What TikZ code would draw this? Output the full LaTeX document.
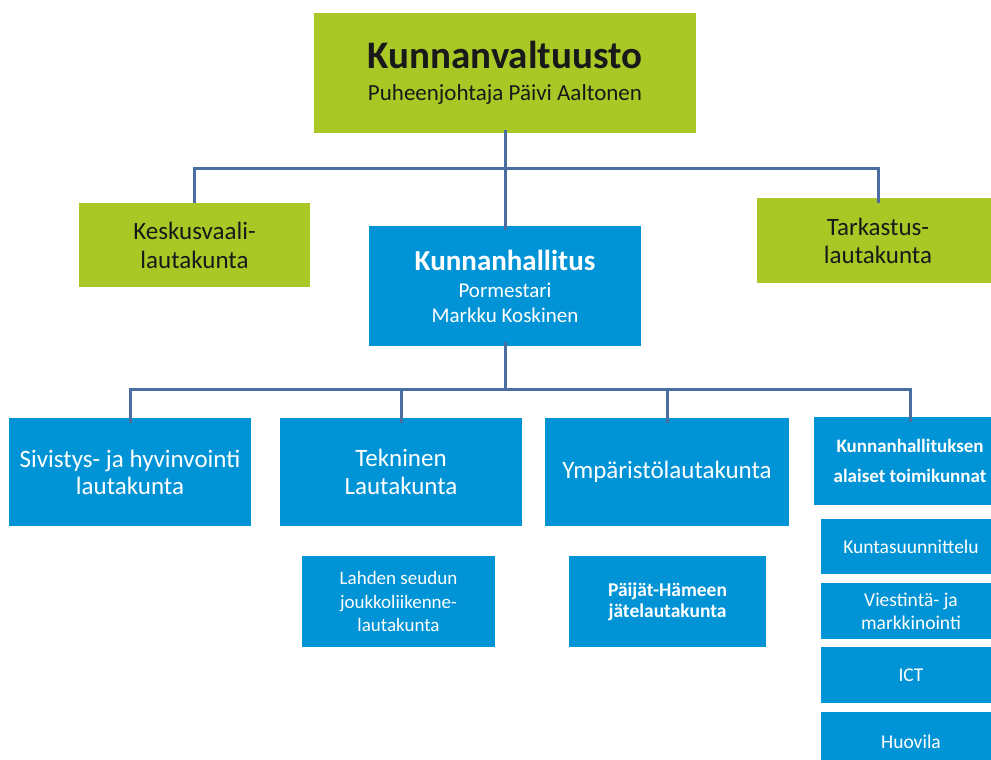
\documentclass[tikz,border=0pt]{standalone}
\usepackage{fontspec}
\setmainfont{Carlito}
\definecolor{kgreen}{RGB}{169,200,37}
\definecolor{kblue}{RGB}{0,148,214}
\definecolor{kline}{RGB}{74,110,160}
\begin{document}
\begin{tikzpicture}[x=1pt,y=-1pt,
  gbox/.style={rectangle,fill=kgreen,inner sep=0pt,align=center,text=black!90},
  bbox/.style={rectangle,fill=kblue,inner sep=0pt,align=center,text=white},
  conn/.style={draw=kline,line width=3pt}]
\useasboundingbox (0,0) rectangle (991,760);
\clip (0,0) rectangle (991,760);
\fill[white] (0,0) rectangle (991,760);
% top
\node[gbox,minimum width=382pt,minimum height=120pt,font=\fontsize{23}{27}\selectfont] (kv) at (505,73)
  {\fontsize{39}{44}\selectfont\bfseries Kunnanvaltuusto\\[5pt]Puheenjohtaja Päivi Aaltonen};
\node[gbox,minimum width=231pt,minimum height=84pt,font=\fontsize{25}{29}\selectfont] (kesk) at (194.5,245)
  {Keskusvaali-\\lautakunta};
\node[gbox,minimum width=242pt,minimum height=85pt,font=\fontsize{25}{28}\selectfont] (tark) at (878,240.5)
  {Tarkastus-\\lautakunta};
\node[bbox,minimum width=272pt,minimum height=120pt,font=\fontsize{21}{25}\selectfont] (kh) at (505,286)
  {\fontsize{29}{33}\selectfont\bfseries Kunnanhallitus\\[2pt]Pormestari\\Markku Koskinen};
% level 3
\node[bbox,minimum width=242pt,minimum height=108pt,font=\fontsize{25}{27}\selectfont] (siv) at (130,472)
  {Sivistys- ja hyvinvointi\\lautakunta};
\node[bbox,minimum width=242pt,minimum height=108pt,font=\fontsize{25}{28}\selectfont] (tek) at (401,472)
  {Tekninen\\Lautakunta};
\node[bbox,minimum width=244pt,minimum height=108pt,font=\fontsize{25}{29}\selectfont] (ymp) at (667,472)
  {Ympäristölautakunta};
\node[bbox,minimum width=192pt,minimum height=88pt,font=\fontsize{19}{30}\selectfont\bfseries] (ala) at (910,461)
  {Kunnanhallituksen\\alaiset toimikunnat};
% level 4
\node[bbox,minimum width=193pt,minimum height=91pt,font=\fontsize{19}{23.5}\selectfont] (lah) at (398.5,601.5)
  {Lahden seudun\\joukkoliikenne-\\lautakunta};
\node[bbox,minimum width=197pt,minimum height=91pt,font=\fontsize{19.5}{21}\selectfont\bfseries] (pai) at (667.5,601.5)
  {Päijät-Hämeen\\jätelautakunta};
\node[bbox,minimum width=180pt,minimum height=55pt,font=\fontsize{19.5}{24}\selectfont] (kun) at (911,546.5)
  {Kuntasuunnittelu};
\node[bbox,minimum width=180pt,minimum height=56pt,font=\fontsize{19.5}{23}\selectfont] (vie) at (911,611)
  {Viestintä- ja\\markkinointi};
\node[bbox,minimum width=180pt,minimum height=56pt,font=\fontsize{19.5}{24}\selectfont] (ict) at (911,675)
  {ICT};
\node[bbox,minimum width=180pt,minimum height=60pt,font=\fontsize{19.5}{24}\selectfont] (huo) at (911,742)
  {Huovila};
% connectors
\coordinate (b1) at (505,168);
\coordinate (b2) at (505,389);
\draw[conn] ([yshift=3pt]kv.south) -- ([yshift=-4pt]kh.north);
\draw[conn] (kesk.north) -- (kesk.north |- b1) -- (tark.north |- b1) -- ([yshift=-5pt]tark.north);
\draw[conn] ([yshift=4pt]kh.south) -- (b2);
\draw[conn] ([yshift=-5pt]siv.north) -- (siv.north |- b2) -- (ala.north |- b2) -- ([yshift=-5pt]ala.north);
\draw[conn] ([yshift=-5pt]tek.north) -- (tek.north |- b2);
\draw[conn] ([yshift=-5pt]ymp.north) -- (ymp.north |- b2);
\end{tikzpicture}
\end{document}
